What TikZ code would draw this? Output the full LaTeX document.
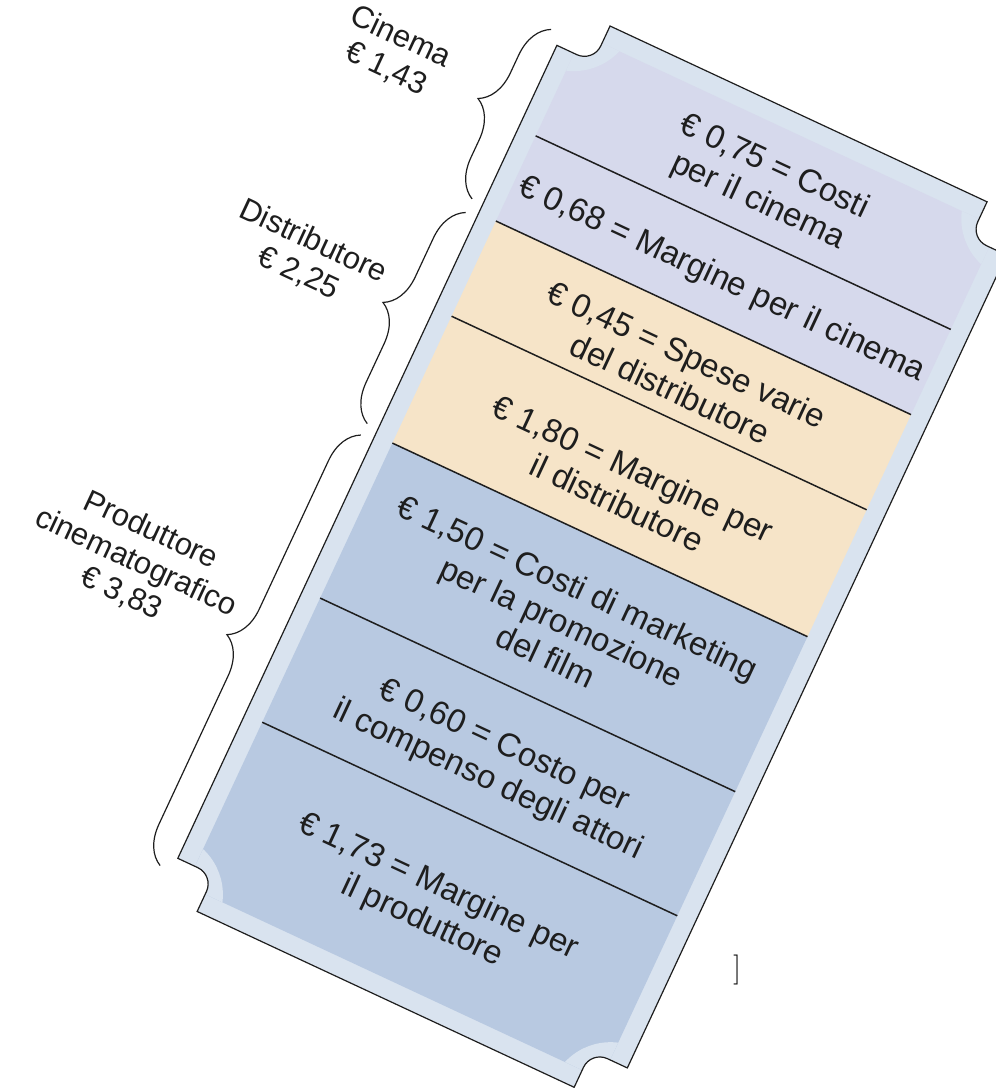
\documentclass[tikz,border=0pt]{standalone}
\usepackage{fontspec}
\newfontfamily\sansf{Liberation Sans}
\usetikzlibrary{decorations.pathreplacing}
\definecolor{band}{RGB}{217,227,239}
\definecolor{lav}{RGB}{214,217,236}
\definecolor{peach}{RGB}{246,228,200}
\definecolor{prodblue}{RGB}{184,201,225}
\definecolor{ink}{RGB}{30,30,30}
\def\ticketpath{(0,-40) [rounded corners=9pt] -- (40,-40) [sharp corners] -- (40,0) -- (456,0) [rounded corners=9pt] -- (456,-40) [sharp corners] -- (496,-40) -- (496,-937) [rounded corners=9pt] -- (456,-937) [sharp corners] -- (456,-977) -- (40,-977) [rounded corners=9pt] -- (40,-937) [sharp corners] -- (0,-937) -- cycle}
\begin{document}
\begin{tikzpicture}[x=0.5pt,y=0.5pt,
  intext/.style={font=\sansf\fontsize{16.5}{19}\selectfont, align=center, text=ink, rotate=-25, inner sep=0pt},
  labtext/.style={font=\sansf\fontsize{15.5}{17.5}\selectfont, align=center, text=ink, rotate=-25, inner sep=0pt},
  divider/.style={line width=0.75pt, draw=ink},
  bracestyle/.style={decorate, decoration={brace, amplitude=18.5pt}, line width=0.6pt, draw=ink}]
\useasboundingbox (0,0) rectangle (996,-1088);
\clip (0,0) rectangle (996,-1088);
\begin{scope}[shift={(573.8,-9.1)}, rotate=-25]
  % ticket body
  \path[fill=band] \ticketpath;
  \begin{scope}
    \clip \ticketpath;
    \clip (19,-19) rectangle (477,-958);
    \fill[lav] (0,0) rectangle (496,-225);
    \fill[peach] (0,-225) rectangle (496,-470);
    \fill[prodblue] (0,-470) rectangle (496,-977);
    \fill[band] (0,0) circle (62) (496,0) circle (62) (496,-977) circle (62) (0,-977) circle (62);
  \end{scope}
  % dividers
  \foreach \b in {131,225,330,470,641,778}
    \draw[divider] (19,-\b) -- (477,-\b);
  \draw[line width=0.6pt, draw=ink] \ticketpath;
  % texts
  \node[intext] (t1) at (248,-78) {€ 0,75 = Costi\\per il cinema};
  \node[intext] (t2) at (248,-183) {€ 0,68 = Margine per il cinema};
  \node[intext] (t3) at (248,-284) {€ 0,45 = Spese varie\\del distributore};
  \node[intext] (t4) at (248,-410) {€ 1,80 = Margine per\\il distributore};
  \node[intext] (t5) at (248,-560) {€ 1,50 = Costi di marketing\\per la promozione\\del film};
  \node[intext] (t6) at (248,-717) {€ 0,60 = Costo per\\il compenso degli attori};
  \node[intext] (t7) at (248,-872) {€ 1,73 = Margine per\\il produttore};
  % braces
  \coordinate (c1a) at (-12,-215); \coordinate (c1b) at (-12,-28);
  \coordinate (c2a) at (-12,-463); \coordinate (c2b) at (-12,-230);
  \coordinate (c3a) at (-13,-951); \coordinate (c3b) at (-13,-476);
  \draw[bracestyle] (c1a) -- (c1b);
  \draw[bracestyle] (c2a) -- (c2b);
  \draw[bracestyle] (c3a) -- (c3b);
  % labels
  \node[labtext] (l1) at (-145,-116) {Cinema\\€ 1,43};
  \node[labtext] (l2) at (-138,-338) {Distributore\\€ 2,25};
  \node[labtext] (l3) at (-163,-686) {Produttore\\cinematografico\\€ 3,83};
\end{scope}
\node[inner sep=0pt] (br) at (737,-970) {\fontsize{15}{15}\selectfont ]};
\end{tikzpicture}
\end{document}
